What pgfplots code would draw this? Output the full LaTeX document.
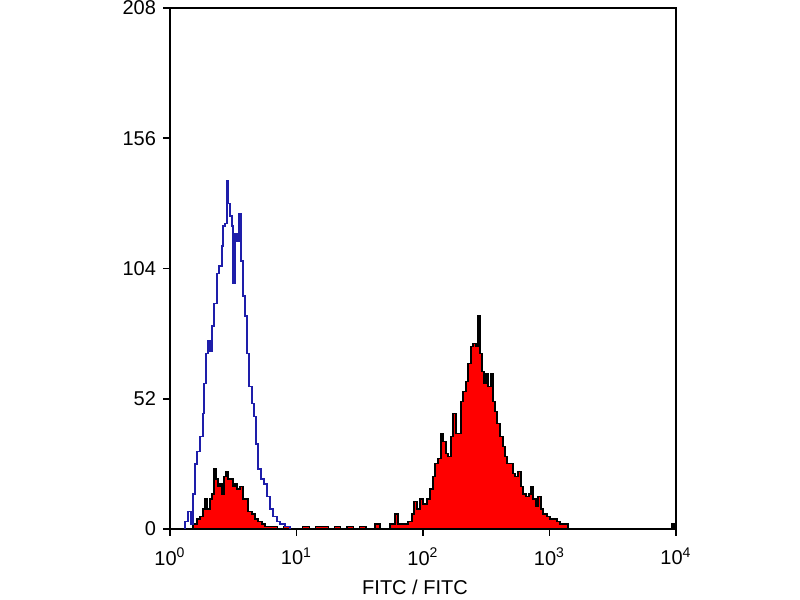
\documentclass[border=0pt]{standalone}
\usepackage{fontspec}
\setmainfont{Liberation Sans}
\usepackage{pgfplots}
\pgfplotsset{compat=1.18}
\usepackage{pgfplotstable}

% x is log10 of the FITC channel value
\pgfplotstableread{
L      n
0.000  0
0.182  2
0.213  4
0.237  5
0.261  8
0.277  12
0.292  8
0.316  12
0.332  14
0.348  24
0.364  20
0.379  17
0.395  18
0.411  14
0.427  21
0.443  23
0.458  20
0.474  20
0.498  17
0.514  18
0.530  16
0.553  17
0.577  12
0.601  12
0.617  7
0.648  6
0.672  4
0.696  3
0.727  2
0.751  1
0.800  1
0.850  0
0.900  1
0.950  0
1.050  1
1.100  0
1.150  1
1.200  1
1.250  0
1.300  1
1.350  0
1.400  1
1.450  0
1.500  1
1.550  0
1.621  2
1.660  0
1.739  2
1.779  6
1.802  2
1.842  2
1.881  3
1.913  6
1.929  11
1.953  8
1.976  12
2.000  10
2.032  12
2.055  16
2.079  21
2.095  26
2.119  28
2.142  38
2.158  35
2.182  30
2.198  29
2.221  37
2.237  46
2.261  38
2.277  38
2.300  51
2.316  55
2.340  59
2.356  66
2.379  73
2.395  74
2.419  73
2.435  85
2.451  70
2.466  63
2.482  58
2.498  62
2.514  57
2.538  62
2.553  51
2.569  47
2.585  42
2.609  37
2.632  33
2.648  29
2.664  26
2.688  26
2.711  22
2.727  21
2.751  23
2.775  17
2.791  14
2.814  13
2.838  14
2.854  17
2.870  12
2.893  9
2.909  13
2.933  8
2.949  6
2.980  5
3.004  4
3.028  4
3.059  3
3.083  2
3.123  2
3.146  0
3.968  2
3.984  0
4.000  0
}\stained

\pgfplotstableread{
L      n
0.110  0
0.119  3
0.142  7
0.166  2
0.182  14
0.198  26
0.213  31
0.237  37
0.261  46
0.269  58
0.285  70
0.300  75
0.316  71
0.332  81
0.348  90
0.372  102
0.387  105
0.411  113
0.419  121
0.435  122
0.451  139
0.458  130
0.474  125
0.490  121
0.498  98
0.514  118
0.530  115
0.545  126
0.561  107
0.577  93
0.593  85
0.609  70
0.625  57
0.648  50
0.664  45
0.680  34
0.696  24
0.719  20
0.743  18
0.767  13
0.791  8
0.814  5
0.846  3
0.870  2
0.909  1
0.949  0
}\control

\definecolor{ctrlblue}{RGB}{30,30,170}

\begin{document}
\begin{tikzpicture}
\begin{axis}[
  at={(85pt,35.5pt)}, anchor=south west,
  scale only axis, width=253pt, height=260.5pt,
  xmin=0, xmax=4, ymin=0, ymax=208,
  xtick={0,1,2,3,4},
  xticklabels={10\textsuperscript{0},10\textsuperscript{1},10\textsuperscript{2},10\textsuperscript{3},10\textsuperscript{4}},
  ytick={0,52,104,156,208},
  yticklabels={0,52,104,156,208},
  tick pos=left, tick align=outside,
  major tick length=3.5pt,
  axis line style={line width=1pt},
  every tick/.style={black, line width=0.8pt},
  ticklabel style={font=\fontsize{10}{12}\selectfont},
  xticklabel style={yshift=-2.5pt},
  xlabel={FITC / FITC},
  xlabel style={font=\fontsize{10}{12}\selectfont, xshift=-4pt, yshift=-0.5pt},
  clip=true,
]
\addplot[const plot, fill=red, draw=black, line width=0.6pt] table[x=L, y=n] {\stained} \closedcycle;
\addplot[const plot, draw=ctrlblue, line width=0.7pt] table[x=L, y=n] {\control};
\end{axis}
\pgfresetboundingbox
\path[use as bounding box] (0,0) rectangle (400pt,300pt);
\end{tikzpicture}
\end{document}
